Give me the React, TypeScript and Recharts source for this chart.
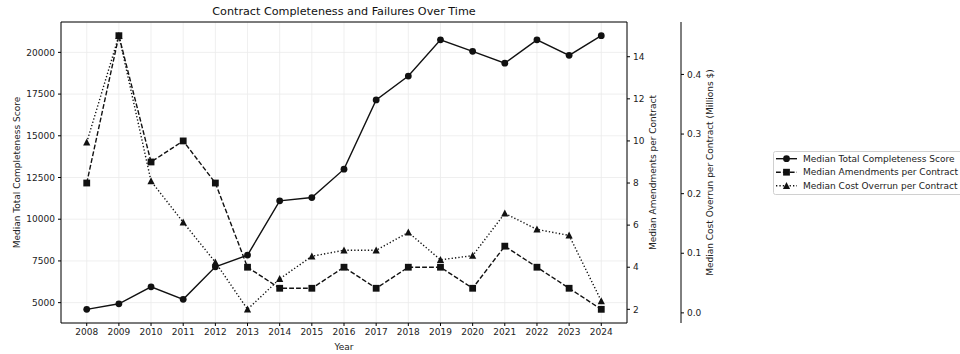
import React from "react";
import {
    ComposedChart,
    Line,
    XAxis,
    YAxis,
    CartesianGrid,
    ReferenceLine,
} from "recharts";

const years = [2008, 2009, 2010, 2011, 2012, 2013, 2014, 2015, 2016, 2017, 2018, 2019, 2020, 2021, 2022, 2023, 2024];
const completeness = [4600, 4930, 5950, 5200, 7150, 7850, 11100, 11300, 13000, 17150, 18580, 20750, 20060, 19350, 20750, 19820, 21000];
const amendments = [8, 15, 9, 10, 8, 4, 3, 3, 4, 3, 4, 4, 3, 5, 4, 3, 2];
const costOverrun = [0.286, 0.465, 0.221, 0.152, 0.085, 0.006, 0.057, 0.095, 0.105, 0.105, 0.135, 0.089, 0.096, 0.167, 0.14, 0.13, 0.02];

const scoreTicks = [5000, 7500, 10000, 12500, 15000, 17500, 20000];
const amendTicks = [2, 4, 6, 8, 10, 12, 14];
const costTicks = [0, 0.1, 0.2, 0.3, 0.4];

const seriesNames = [
    "Median Total Completeness Score",
    "Median Amendments per Contract",
    "Median Cost Overrun per Contract",
];

const data = years.map((year, i) => ({
    year,
    score: completeness[i],
    amend: amendments[i],
    cost: costOverrun[i],
}));

const FONT = "'DejaVu Sans', sans-serif";
const FS = 9;
const TICK = { fill: "#222", fontSize: FS };
const INK = "#111";

const circleDot = (p: any) => (
    <circle key={`c-${p.index}`} cx={p.cx} cy={p.cy} r={3.4} fill={INK} />
);
const squareDot = (p: any) => (
    <rect key={`s-${p.index}`} x={p.cx - 3.4} y={p.cy - 3.4} width={6.8} height={6.8} fill={INK} />
);
const triangleDot = (p: any) => (
    <polygon
        key={`t-${p.index}`}
        points={`${p.cx},${p.cy - 3.8} ${p.cx - 3.6},${p.cy + 3.2} ${p.cx + 3.6},${p.cy + 3.2}`}
        fill={INK}
    />
);

// rotated axis title, placed dx px from the axis' left edge
const vLabel = (text: string, dx: number) => (props: any) => {
    const vb = props.viewBox;
    const x = vb.x + dx;
    const y = vb.y + vb.height / 2;
    return (
        <text
            x={x}
            y={y}
            transform={`rotate(-90, ${x}, ${y})`}
            textAnchor="middle"
            dominantBaseline="central"
            fontSize={FS}
            fill="#222"
        >
            {text}
        </text>
    );
};

const Legend = () => (
    <svg
        width={190}
        height={44}
        style={{ position: "absolute", left: 773, top: 151, overflow: "visible" }}
    >
        <rect x={0.5} y={0.5} width={200} height={43} rx={2} fill="#fff" stroke="#d0d0d0" />
        {seriesNames.map((name, i) => {
            const y = 7.7 + i * 13.5;
            return (
                <g key={name}>
                    <line
                        x1={3}
                        x2={24}
                        y1={y}
                        y2={y}
                        stroke={INK}
                        strokeWidth={1.4}
                        strokeDasharray={i === 0 ? undefined : i === 1 ? "4.8 2.1" : "1.3 2.1"}
                    />
                    {i === 0 && circleDot({ cx: 13.5, cy: y, index: "l" })}
                    {i === 1 && squareDot({ cx: 13.5, cy: y, index: "l" })}
                    {i === 2 && triangleDot({ cx: 13.5, cy: y, index: "l" })}
                    <text x={30} y={y} dominantBaseline="central" fontSize={FS} fill="#222">
                        {name}
                    </text>
                </g>
            );
        })}
    </svg>
);

export default function App() {
    return (
        <div style={{ position: "absolute", left: 0, top: 0, width: 960, height: 354, background: "#fff", fontFamily: FONT, overflow: "hidden" }}>
            <div
                style={{
                    position: "absolute",
                    left: 61,
                    width: 566,
                    top: 5,
                    textAlign: "center",
                    fontSize: 11.2,
                    color: "#111",
                    lineHeight: "14px",
                }}
            >
                Contract Completeness and Failures Over Time
            </div>
            <ComposedChart
                width={960}
                height={354}
                data={data}
                margin={{ top: 22, right: 229, bottom: 0, left: 0 }}
            >
                <CartesianGrid yAxisId="score" stroke="#ebebeb" strokeWidth={0.8} />
                <XAxis
                    dataKey="year"
                    type="number"
                    domain={[2007.2, 2024.8]}
                    ticks={years}
                    interval={0}
                    allowDataOverflow
                    height={31}
                    tick={TICK}
                    tickSize={3}
                    tickMargin={3}
                    axisLine={{ stroke: "#000", strokeWidth: 1 }}
                    tickLine={{ stroke: "#000" }}
                    label={(props: any) => (
                        <text
                            x={props.viewBox.x + props.viewBox.width / 2}
                            y={props.viewBox.y + 27}
                            textAnchor="middle"
                            fontSize={FS}
                            fill="#222"
                        >
                            Year
                        </text>
                    )}
                />
                <YAxis
                    yAxisId="score"
                    orientation="left"
                    type="number"
                    width={61}
                    domain={[3780, 21820]}
                    ticks={scoreTicks}
                    allowDataOverflow
                    tick={TICK}
                    tickSize={3}
                    tickMargin={3}
                    axisLine={{ stroke: "#000" }}
                    tickLine={{ stroke: "#000" }}
                    label={vLabel("Median Total Completeness Score", 17)}
                />
                <YAxis
                    yAxisId="amend"
                    orientation="right"
                    type="number"
                    width={54}
                    domain={[1.35, 15.65]}
                    ticks={amendTicks}
                    allowDataOverflow
                    tick={TICK}
                    tickSize={3}
                    tickMargin={3}
                    axisLine={{ stroke: "#000" }}
                    tickLine={{ stroke: "#000" }}
                    label={vLabel("Median Amendments per Contract", 25.5)}
                />
                <YAxis
                    yAxisId="cost"
                    orientation="right"
                    type="number"
                    width={50}
                    domain={[-0.017, 0.488]}
                    ticks={costTicks}
                    allowDataOverflow
                    tick={TICK}
                    tickSize={3}
                    tickMargin={3}
                    tickFormatter={(v: number) => v.toFixed(1)}
                    axisLine={{ stroke: "#000" }}
                    tickLine={{ stroke: "#000" }}
                    label={vLabel("Median Cost Overrun per Contract (Millions $)", 29)}
                />
                <ReferenceLine yAxisId="score" y={21820} stroke="#000" strokeWidth={1} />
                <Line
                    yAxisId="score"
                    dataKey="score"
                    name={seriesNames[0]}
                    stroke={INK}
                    strokeWidth={1.4}
                    dot={circleDot}
                    activeDot={false}
                    isAnimationActive={false}
                />
                <Line
                    yAxisId="amend"
                    dataKey="amend"
                    name={seriesNames[1]}
                    stroke={INK}
                    strokeWidth={1.4}
                    strokeDasharray="4.8 2.1"
                    dot={squareDot}
                    activeDot={false}
                    isAnimationActive={false}
                />
                <Line
                    yAxisId="cost"
                    dataKey="cost"
                    name={seriesNames[2]}
                    stroke={INK}
                    strokeWidth={1.4}
                    strokeDasharray="1.3 2.1"
                    dot={triangleDot}
                    activeDot={false}
                    isAnimationActive={false}
                />
            </ComposedChart>
            <Legend />
        </div>
    );
}
